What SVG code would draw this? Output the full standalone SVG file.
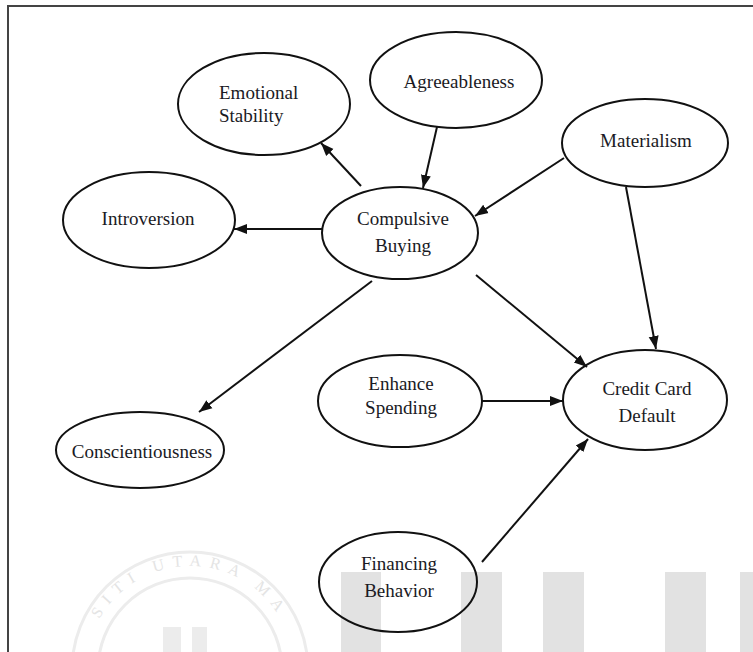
<svg xmlns="http://www.w3.org/2000/svg" width="753" height="652" viewBox="0 0 753 652">
<defs>
<style>
.node ellipse{fill:none;stroke:#111;stroke-width:2}
.node text{font-family:"Liberation Serif","Times New Roman",serif;font-size:19px;fill:#1a1a24;text-anchor:middle}
.edge{stroke:#111;stroke-width:2;fill:none;marker-end:url(#arr)}
.wm{fill:#e2e2e2}
.seal{fill:none;stroke:#ececec;stroke-width:3}
</style>
<marker id="arr" markerUnits="userSpaceOnUse" markerWidth="14" markerHeight="12" viewBox="0 0 14 12" refX="13" refY="6" orient="auto">
<path d="M0,1 L13,6 L0,11 Z" fill="#111"/>
</marker>
<path id="sealpath" d="M190,774 A104,104 0 0 1 190,566 A104,104 0 0 1 190,774"/>
</defs>
<rect width="753" height="652" fill="#ffffff"/>
<g id="watermark">
<rect class="wm" x="341" y="572" width="40" height="80"/>
<rect class="wm" x="461" y="572" width="41" height="80"/>
<rect class="wm" x="543" y="572" width="41" height="80"/>
<rect class="wm" x="665" y="572" width="41" height="80"/>
<rect class="wm" x="740" y="572" width="13" height="80"/>
<circle class="seal" cx="190" cy="670" r="118"/>
<circle class="seal" cx="190" cy="670" r="92"/>
<text font-family="Liberation Serif, serif" font-size="16" fill="#e4e4e4" letter-spacing="8"><textPath href="#sealpath" startOffset="50%" text-anchor="middle">SITI UTARA MA</textPath></text>
<rect x="163" y="627" width="18" height="25" fill="#ececec"/>
<rect x="192" y="627" width="15" height="25" fill="#ececec"/>
</g>
<path d="M8,652 V6 H753" fill="none" stroke="#444" stroke-width="2"/>
<g id="connectors">
<line class="edge" x1="361" y1="186" x2="321" y2="143"/>
<line class="edge" x1="437" y1="127" x2="423" y2="188"/>
<line class="edge" x1="564" y1="158" x2="475" y2="216"/>
<line class="edge" x1="322" y1="229" x2="234" y2="229"/>
<line class="edge" x1="372" y1="281" x2="199" y2="412"/>
<line class="edge" x1="476" y1="275" x2="587" y2="367"/>
<line class="edge" x1="626" y1="187" x2="656" y2="349"/>
<line class="edge" x1="482" y1="401" x2="563" y2="401"/>
<line class="edge" x1="482" y1="562" x2="588" y2="439"/>
</g>
<g id="emotional-stability" class="node">
<ellipse cx="264" cy="104" rx="86" ry="51"/>
<text x="219" y="99" style="text-anchor:start">Emotional</text>
<text x="219" y="122" style="text-anchor:start">Stability</text>
</g>
<g id="agreeableness" class="node">
<ellipse cx="456" cy="80" rx="86" ry="48"/>
<text x="459" y="88">Agreeableness</text>
</g>
<g id="materialism" class="node">
<ellipse cx="645" cy="143" rx="83" ry="44"/>
<text x="646" y="147">Materialism</text>
</g>
<g id="introversion" class="node">
<ellipse cx="149" cy="220" rx="86" ry="48"/>
<text x="148" y="225">Introversion</text>
</g>
<g id="compulsive-buying" class="node">
<ellipse cx="400" cy="233" rx="78" ry="46"/>
<text x="403" y="225">Compulsive</text>
<text x="403" y="252">Buying</text>
</g>
<g id="conscientiousness" class="node">
<ellipse cx="140" cy="450" rx="84" ry="38"/>
<text x="142" y="458">Conscientiousness</text>
</g>
<g id="enhance-spending" class="node">
<ellipse cx="400" cy="401" rx="82" ry="46"/>
<text x="401" y="390">Enhance</text>
<text x="401" y="414">Spending</text>
</g>
<g id="credit-card-default" class="node">
<ellipse cx="645" cy="400" rx="82" ry="50"/>
<text x="647" y="395">Credit Card</text>
<text x="647" y="422">Default</text>
</g>
<g id="financing-behavior" class="node">
<ellipse cx="398" cy="582" rx="79" ry="50"/>
<text x="399" y="570">Financing</text>
<text x="399" y="597">Behavior</text>
</g>
</svg>
